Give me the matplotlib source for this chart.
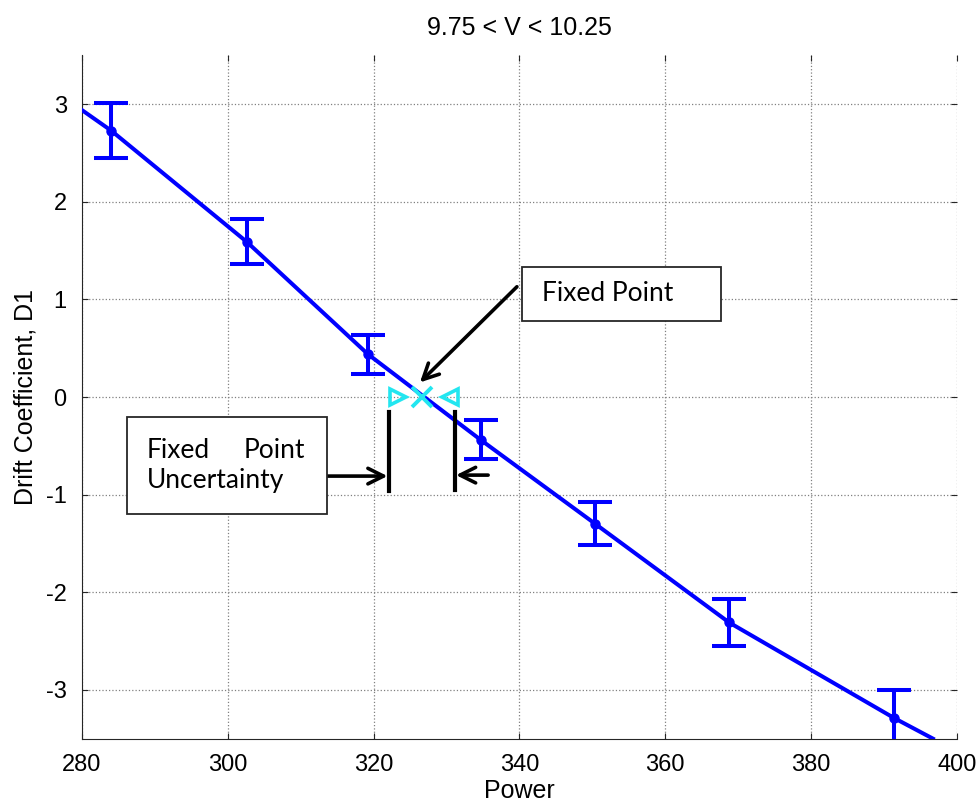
import numpy as np
import matplotlib.pyplot as plt
from matplotlib.patches import Rectangle

# measured points with error bars
power = [284.0, 302.6, 319.2, 334.7, 350.4, 368.75, 391.4]
drift = [2.73, 1.59, 0.44, -0.44, -1.30, -2.31, -3.29]
drift_err = [0.28, 0.23, 0.20, 0.20, 0.22, 0.24, 0.29]

# fitted curve, runs from left edge to bottom edge
line_x = [280.0] + power + [396.7]
line_y = [2.94] + drift + [-3.5]

# fixed point and its uncertainty
fixed_x = 326.6
unc_lo = 322.1
unc_hi = 331.1

plt.rcParams['font.family'] = ['Liberation Sans', 'DejaVu Sans']
plt.rcParams['axes.unicode_minus'] = False

fig = plt.figure(figsize=(9.76, 8.06), dpi=100)
ax = fig.add_axes([0.0840, 0.0836, 0.8965, 0.8476])

ax.plot(line_x, line_y, color='#0000ff', lw=2.9, zorder=3)
ax.errorbar(power, drift, yerr=drift_err, fmt='o', color='#0000ff', ms=6.5,
            elinewidth=2.9, capsize=12, capthick=2.9, zorder=4)

cyan = '#22e6f0'
ax.plot([unc_lo + 1.2], [0], marker='>', ms=12, mfc='none', mec=cyan, mew=2.6, ls='none', zorder=5)
ax.plot([unc_hi - 0.6], [0], marker='<', ms=12, mfc='none', mec=cyan, mew=2.6, ls='none', zorder=5)
ax.plot([fixed_x], [0], marker='x', ms=14, mec=cyan, mew=2.8, ls='none', zorder=5)

# uncertainty bars and arrows
ax.plot([unc_lo, unc_lo], [-0.15, -0.96], color='k', lw=3, zorder=5)
ax.plot([unc_hi, unc_hi], [-0.15, -0.95], color='k', lw=3, zorder=5)
arr = dict(arrowstyle='->', color='k', lw=2.6, mutation_scale=28, shrinkA=0, shrinkB=0)
ax.annotate('', xy=(unc_lo - 0.2, -0.81), xytext=(313.6, -0.81), arrowprops=arr, zorder=6)
ax.annotate('', xy=(unc_hi + 0.2, -0.80), xytext=(335.7, -0.80), arrowprops=arr, zorder=6)
ax.annotate('', xy=(326.35, 0.15), xytext=(339.65, 1.13), arrowprops=arr, zorder=6)

# text boxes
ax.add_patch(Rectangle((340.4, 0.78), 27.25, 0.555, facecolor='white', edgecolor='0.15', lw=1.3, zorder=7))
ax.text(343.1, 1.06, 'Fixed Point', fontsize=19, family=['Lato', 'DejaVu Sans'], va='center', zorder=8)
ax.add_patch(Rectangle((286.2, -1.2), 27.4, 0.995, facecolor='white', edgecolor='0.15', lw=1.3, zorder=7))
ax.text(288.9, -0.55, 'Fixed', fontsize=19, family=['Lato', 'DejaVu Sans'], va='center', zorder=8)
ax.text(310.6, -0.55, 'Point', fontsize=19, family=['Lato', 'DejaVu Sans'], va='center', ha='right', zorder=8)
ax.text(288.9, -0.86, 'Uncertainty', fontsize=19, family=['Lato', 'DejaVu Sans'], va='center', zorder=8)

ax.set_xlim(280, 400)
ax.set_ylim(-3.5, 3.5)
ax.set_xticks(np.arange(280, 401, 20))
ax.set_yticks(np.arange(-3, 4, 1))
ax.grid(True, linestyle=':', color='0.5', lw=0.9)
ax.tick_params(direction='in', length=4, top=True, right=True, labelsize=17, color='0.15')
ax.tick_params(axis='x', pad=11)
ax.tick_params(axis='y', pad=11)
for s in ['top', 'right']:
    ax.spines[s].set_visible(False)
for s in ['left', 'bottom']:
    ax.spines[s].set_color('0.15')
ax.set_xlabel('Power', fontsize=18, labelpad=2)
ax.set_ylabel('Drift Coefficient, D1', fontsize=18, labelpad=6)
ax.set_title('9.75 < V < 10.25', fontsize=18, pad=15)

fig.savefig('out.png', dpi=100)
